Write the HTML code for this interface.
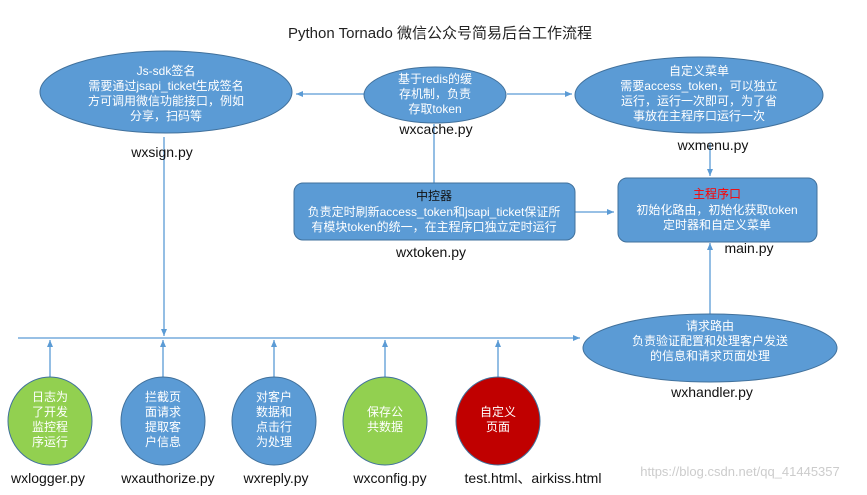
<!DOCTYPE html>
<html><head><meta charset="utf-8"><style>
body{margin:0;background:#fff;}
svg text{font-family:"Liberation Sans","Noto Sans CJK SC",sans-serif;}
</style></head><body>
<svg width="867" height="490" viewBox="0 0 867 490" xmlns="http://www.w3.org/2000/svg">
<defs><marker id="a" markerWidth="8" markerHeight="8" refX="7" refY="4" orient="auto" markerUnits="userSpaceOnUse"><path d="M0,1 L7,4 L0,7 z" fill="#5b9bd5"/></marker></defs>
<rect width="867" height="490" fill="#fff"/>
<text x="440" y="38" font-size="15" text-anchor="middle" fill="#222">Python Tornado 微信公众号简易后台工作流程</text>
<g stroke="#5b9bd5" stroke-width="1.3" fill="none">
<line x1="364" y1="94" x2="296" y2="94" marker-end="url(#a)"/>
<line x1="507" y1="94" x2="572" y2="94" marker-end="url(#a)"/>
<line x1="434" y1="124" x2="434" y2="183"/>
<line x1="710" y1="143" x2="710" y2="176" marker-end="url(#a)"/>
<line x1="575" y1="212" x2="614" y2="212" marker-end="url(#a)"/>
<line x1="164" y1="137" x2="164" y2="336" marker-end="url(#a)"/>
<line x1="18" y1="338" x2="580" y2="338" marker-end="url(#a)"/>
<line x1="710" y1="314" x2="710" y2="243" marker-end="url(#a)"/>
<line x1="50" y1="377" x2="50" y2="340" marker-end="url(#a)"/>
<line x1="163" y1="377" x2="163" y2="340" marker-end="url(#a)"/>
<line x1="274" y1="377" x2="274" y2="340" marker-end="url(#a)"/>
<line x1="385" y1="377" x2="385" y2="340" marker-end="url(#a)"/>
<line x1="498" y1="377" x2="498" y2="340" marker-end="url(#a)"/>
</g>
<g stroke="#41719c" stroke-width="1">
<ellipse cx="166" cy="92" rx="126" ry="41" fill="#5b9bd5"/>
<ellipse cx="435" cy="95" rx="71" ry="28" fill="#5b9bd5"/>
<ellipse cx="699" cy="95" rx="124" ry="38" fill="#5b9bd5"/>
<rect x="294" y="183" width="281" height="57" rx="9" fill="#5b9bd5"/>
<rect x="618" y="178" width="199" height="64" rx="9" fill="#5b9bd5"/>
<ellipse cx="710" cy="348" rx="127" ry="34" fill="#5b9bd5"/>
<ellipse cx="50" cy="421" rx="42" ry="44" fill="#92d050"/>
<ellipse cx="163" cy="421" rx="42" ry="44" fill="#5b9bd5"/>
<ellipse cx="274" cy="421" rx="42" ry="44" fill="#5b9bd5"/>
<ellipse cx="385" cy="421" rx="42" ry="44" fill="#92d050"/>
<ellipse cx="498" cy="421" rx="42" ry="44" fill="#c00000"/>
</g>
<g font-size="12" fill="#fff" text-anchor="middle">
<text x="166" y="75">Js-sdk签名</text><text x="166" y="90">需要通过jsapi_ticket生成签名</text><text x="166" y="105">方可调用微信功能接口，例如</text><text x="166" y="120">分享，扫码等</text>
<text x="435" y="83">基于redis的缓</text><text x="435" y="98">存机制，负责</text><text x="435" y="113">存取token</text>
<text x="699" y="75">自定义菜单</text><text x="699" y="90">需要access_token，可以独立</text><text x="699" y="105">运行，运行一次即可，为了省</text><text x="699" y="120">事放在主程序口运行一次</text>
<text x="434" y="200" fill="#111">中控器</text><text x="434" y="216">负责定时刷新access_token和jsapi_ticket保证所</text><text x="434" y="231">有模块token的统一，在主程序口独立定时运行</text>
<text x="717" y="198" fill="#ff0000">主程序口</text><text x="717" y="214">初始化路由，初始化获取token</text><text x="717" y="229">定时器和自定义菜单</text>
<text x="710" y="330">请求路由</text><text x="710" y="345">负责验证配置和处理客户发送</text><text x="710" y="360">的信息和请求页面处理</text>
<text x="50" y="401">日志为</text><text x="50" y="416">了开发</text><text x="50" y="431">监控程</text><text x="50" y="446">序运行</text>
<text x="163" y="401">拦截页</text><text x="163" y="416">面请求</text><text x="163" y="431">提取客</text><text x="163" y="446">户信息</text>
<text x="274" y="401">对客户</text><text x="274" y="416">数据和</text><text x="274" y="431">点击行</text><text x="274" y="446">为处理</text>
<text x="385" y="416">保存公</text><text x="385" y="431">共数据</text>
<text x="498" y="416">自定义</text><text x="498" y="431">页面</text>
</g>
<g font-size="14" fill="#111" text-anchor="middle">
<text x="162" y="157">wxsign.py</text>
<text x="436" y="134">wxcache.py</text>
<text x="713" y="150">wxmenu.py</text>
<text x="431" y="257">wxtoken.py</text>
<text x="749" y="253">main.py</text>
<text x="712" y="397">wxhandler.py</text>
<text x="48" y="483">wxlogger.py</text>
<text x="168" y="483">wxauthorize.py</text>
<text x="276" y="483">wxreply.py</text>
<text x="390" y="483">wxconfig.py</text>
<text x="533" y="483">test.html、airkiss.html</text>
</g>
<text x="740" y="476" font-size="13" fill="#ccc" text-anchor="middle">https://blog.csdn.net/qq_41445357</text>
</svg>
</body></html>
